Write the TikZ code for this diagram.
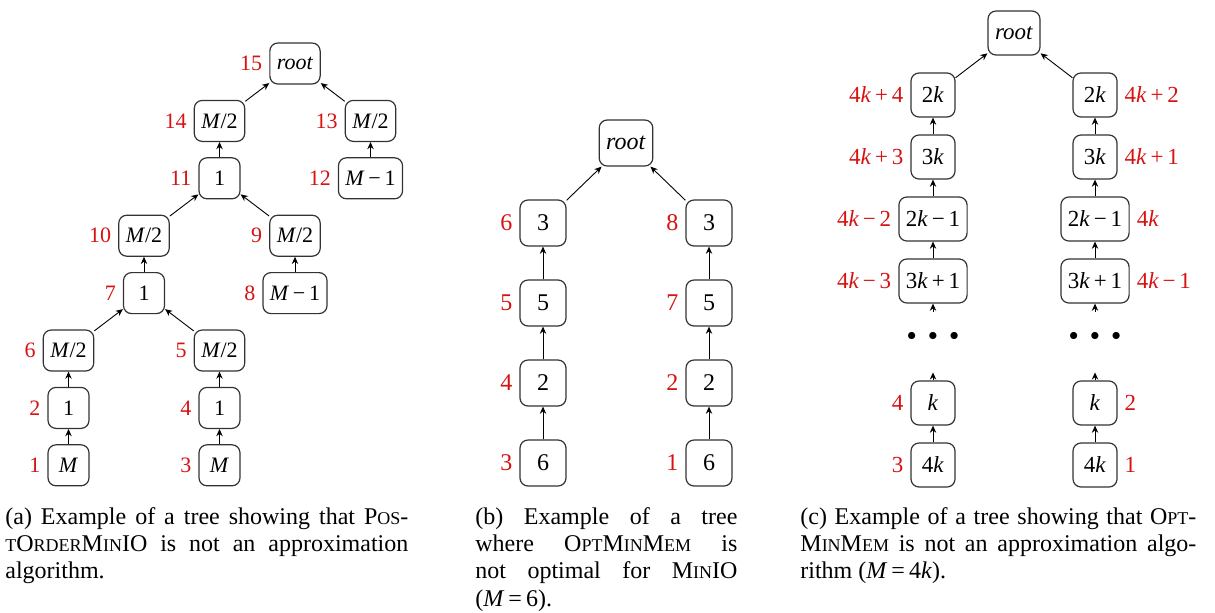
\documentclass[tikz,border=0pt]{standalone}
\usepackage{fontspec}
\setmainfont{Liberation Serif}
\usepackage{tikz}
\usetikzlibrary{arrows.meta, positioning}
\definecolor{ordred}{RGB}{214,18,18}
\newcommand{\fsc}[1]{{\fontsize{9pt}{10pt}\selectfont #1}}
\newcommand{\vM}{\textit{M}}
\newcommand{\vk}{\textit{k}}
\newcommand{\mi}{\,−\,}
\newcommand{\pl}{\,+\,}

\begin{document}
\begin{tikzpicture}[
    x=0.5pt, y=-0.5pt, on grid,
    tnode/.style={rectangle, rounded corners=4pt, draw=black!80, line width=0.6pt,
                  minimum size=#1, inner sep=3.5pt},
    ordlab/.style={text=ordred},
    ord/.style={label={[ordlab]left:#1}},
    ordr/.style={label={[ordlab]right:#1}},
    arrow/.style={-{Stealth[length=3.6pt, width=3.2pt, inset=1.2pt]}, line width=0.45pt},
    caption/.style={anchor=north west, inner sep=0pt, align=justify,
                  font=\fontsize{12pt}{13.65pt}\selectfont}
  ]
  \useasboundingbox (0,0) rectangle (1215,612);

  % (a)
  \begin{scope}[font=\fontsize{11pt}{13pt}\selectfont, node distance=28.7pt and 37.75pt]
    \node[tnode=20.5pt, ord=15] (aroot) at (295,63.5) {\textit{root}};
    \node[tnode=20.5pt, ord=14, below left=of aroot] (a14) {\vM/2};
    \node[tnode=20.5pt, ord=13, below right=of aroot] (a13) {\vM/2};
    \node[tnode=20.5pt, ord=11, below=of a14] (a11) {1};
    \node[tnode=20.5pt, ord=12, below=of a13] (a12) {\vM\mi1};
    \node[tnode=20.5pt, ord=10, below left=of a11] (a10) {\vM/2};
    \node[tnode=20.5pt, ord=9, below right=of a11] (a9) {\vM/2};
    \node[tnode=20.5pt, ord=7, below=of a10] (a7) {1};
    \node[tnode=20.5pt, ord=8, below=of a9] (a8) {\vM\mi1};
    \node[tnode=20.5pt, ord=6, below left=of a7] (a6) {\vM/2};
    \node[tnode=20.5pt, ord=5, below right=of a7] (a5) {\vM/2};
    \node[tnode=20.5pt, ord=2, below=of a6] (a2) {1};
    \node[tnode=20.5pt, ord=4, below=of a5] (a4) {1};
    \node[tnode=20.5pt, ord=1, below=of a2] (a1) {\vM};
    \node[tnode=20.5pt, ord=3, below=of a4] (a3) {\vM};
    \foreach \c/\p in {a1/a2, a2/a6, a6/a7, a3/a4, a4/a5, a5/a7, a7/a10, a10/a11,
                       a8/a9, a9/a11, a11/a14, a14/aroot, a12/a13, a13/aroot}
      \draw[arrow] (\c) -- (\p);
  \end{scope}

  % (b)
  \begin{scope}[font=\fontsize{12pt}{14pt}\selectfont, node distance=40pt and 41.5pt]
    \node[tnode=23pt] (broot) at (626,143) {\textit{root}};
    \node[tnode=23pt, ord=6, below left=of broot] (b6) {3};
    \node[tnode=23pt, ord=5, below=of b6] (b5) {5};
    \node[tnode=23pt, ord=4, below=of b5] (b4) {2};
    \node[tnode=23pt, ord=3, below=of b4] (b3) {6};
    \node[tnode=23pt, ord=8, below right=of broot] (b8) {3};
    \node[tnode=23pt, ord=7, below=of b8] (b7) {5};
    \node[tnode=23pt, ord=2, below=of b7] (b2) {2};
    \node[tnode=23pt, ord=1, below=of b2] (b1) {6};
    \foreach \c/\p in {b3/b4, b4/b5, b5/b6, b6/broot, b1/b2, b2/b7, b7/b8, b8/broot}
      \draw[arrow] (\c) -- (\p);
  \end{scope}

  % (c)
  \begin{scope}[font=\fontsize{11.5pt}{13pt}\selectfont, node distance=31pt and 40.5pt]
    \node[tnode=22pt] (croot) at (1014,33) {\textit{root}};
    \node[tnode=22pt, ord=4\vk\pl4, below left=of croot] (c2kL) {2\vk};
    \node[tnode=22pt, ord=4\vk\pl3, below=of c2kL] (c3kL) {3\vk};
    \node[tnode=22pt, ord=4\vk\mi2, below=of c3kL] (c2k1L) {2\vk\mi1};
    \node[tnode=22pt, ord=4\vk\mi3, below=of c2k1L] (c3k1L) {3\vk\pl1};
    \node[below=27.5pt of c3k1L, font=\fontsize{9pt}{9pt}\selectfont] (dotsL)
      {$\bullet\hspace{4pt}\bullet\hspace{4pt}\bullet$};
    \node[tnode=22pt, ord=4, below=33.5pt of dotsL] (ckL) {\vk};
    \node[tnode=22pt, ord=3, below=of ckL] (c4kL) {4\vk};
    \node[tnode=22pt, ordr=4\vk\pl2, below right=of croot] (c2kR) {2\vk};
    \node[tnode=22pt, ordr=4\vk\pl1, below=of c2kR] (c3kR) {3\vk};
    \node[tnode=22pt, ordr=4\vk, below=of c3kR] (c2k1R) {2\vk\mi1};
    \node[tnode=22pt, ordr=4\vk\mi1, below=of c2k1R] (c3k1R) {3\vk\pl1};
    \node[below=27.5pt of c3k1R, font=\fontsize{9pt}{9pt}\selectfont] (dotsR)
      {$\bullet\hspace{4pt}\bullet\hspace{4pt}\bullet$};
    \node[tnode=22pt, ordr=2, below=33.5pt of dotsR] (ckR) {\vk};
    \node[tnode=22pt, ordr=1, below=of ckR] (c4kR) {4\vk};
    \foreach \s in {L, R} {
      \coordinate[above=4pt of ck\s.north] (ktip\s);
      \coordinate[below=4pt of c3k1\s.south] (ctail\s);
      \draw[arrow] (c4k\s) -- (ck\s);
      \draw[arrow] (ck\s) -- (ktip\s);
      \draw[arrow] (ctail\s) -- (c3k1\s);
      \draw[arrow] (c3k1\s) -- (c2k1\s);
      \draw[arrow] (c2k1\s) -- (c3k\s);
      \draw[arrow] (c3k\s) -- (c2k\s);
      \draw[arrow] (c2k\s) -- (croot);
    }
  \end{scope}

  % captions
  \node[caption, text width=201.5pt] (capa) at (5,507)
    {(a) Example of a tree showing that P\fsc{OS}-\linebreak
     \fsc{T}O\fsc{RDER}M\fsc{IN}IO is not an approximation\linebreak algorithm.};
  \node[caption, text width=131pt] (capb) at (475,507)
    {(b) Example of a tree\linebreak where O\fsc{PT}M\fsc{IN}M\fsc{EM} is\linebreak
     not optimal for M\fsc{IN}IO\linebreak (\vM\,=\,6).};
  \node[caption, text width=198pt] (capc) at (800,507)
    {(c) Example of a tree showing that O\fsc{PT}-\linebreak
     M\fsc{IN}M\fsc{EM} is not an approximation algo-\linebreak rithm (\vM\,=\,4\vk).};
\end{tikzpicture}
\end{document}
